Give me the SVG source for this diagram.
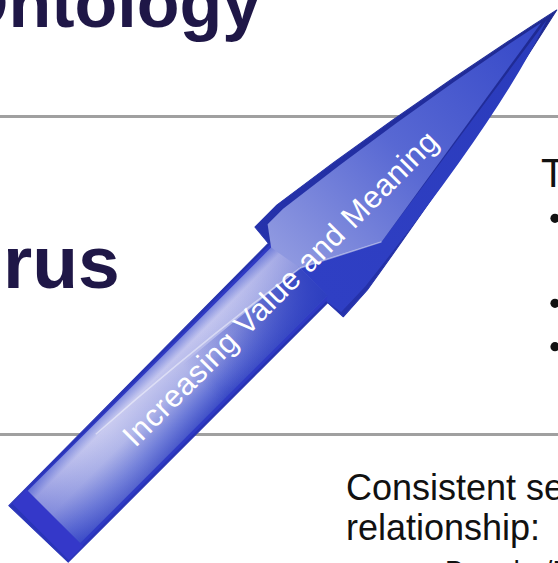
<svg xmlns="http://www.w3.org/2000/svg" width="558" height="563" viewBox="0 0 558 563">
<defs>
<style>
.title{font-family:"Liberation Sans",Arial,sans-serif;font-weight:bold;fill:#1f1747}
.body{font-family:"Liberation Sans",Arial,sans-serif;fill:#111111}
.rule{stroke:#a0a0a0;stroke-width:3;fill:none}
.bullet{fill:#111111}
.arrowtext{font-family:"Liberation Sans",Arial,sans-serif;fill:#ffffff}
</style>
<linearGradient id="outer" gradientUnits="userSpaceOnUse" x1="0" y1="0" x2="736" y2="0">
<stop offset="0" stop-color="#2a34b8"/>
<stop offset="0.5" stop-color="#2532ac"/>
<stop offset="1" stop-color="#1e2990"/>
</linearGradient>
<linearGradient id="shaftFace" gradientUnits="userSpaceOnUse" x1="0" y1="-37" x2="0" y2="37">
<stop offset="0" stop-color="#7e8ade"/>
<stop offset="0.14" stop-color="#c2c4ee"/>
<stop offset="0.45" stop-color="#a8aee7"/>
<stop offset="0.78" stop-color="#6372d6"/>
<stop offset="1" stop-color="#3a4bc6"/>
</linearGradient>
<linearGradient id="shaftLen" gradientUnits="userSpaceOnUse" x1="22" y1="0" x2="372" y2="0">
<stop offset="0" stop-color="#3a48c8" stop-opacity="0.35"/>
<stop offset="0.3" stop-color="#ffffff" stop-opacity="0.12"/>
<stop offset="0.6" stop-color="#ffffff" stop-opacity="0"/>
<stop offset="1" stop-color="#4050c8" stop-opacity="0.25"/>
</linearGradient>
<linearGradient id="shaftShade" gradientUnits="userSpaceOnUse" x1="220" y1="0" x2="372" y2="0">
<stop offset="0" stop-color="#2c3dbf" stop-opacity="0"/>
<stop offset="1" stop-color="#2c3dbf" stop-opacity="0.9"/>
</linearGradient>
<linearGradient id="headFace" gradientUnits="userSpaceOnUse" x1="370" y1="0" x2="716" y2="0">
<stop offset="0" stop-color="#8e98e0"/>
<stop offset="0.45" stop-color="#5868d3"/>
<stop offset="1" stop-color="#3447c8"/>
</linearGradient>
<linearGradient id="headBevel" gradientUnits="userSpaceOnUse" x1="370" y1="0" x2="720" y2="0">
<stop offset="0" stop-color="#2f3fc4"/>
<stop offset="1" stop-color="#2a3bbb"/>
</linearGradient>
</defs>
<rect width="558" height="563" fill="#ffffff"/>
<g id="rules">
<line class="rule" x1="0" y1="116.5" x2="558" y2="116.5"/>
<line class="rule" x1="0" y1="434.5" x2="558" y2="434.5"/>
</g>
<g id="title-ontology"><text class="title" x="-46" y="26.5" font-size="70">Ontology</text></g>
<g id="title-thesaurus"><text class="title" x="3" y="288" font-size="75">rus</text></g>
<g id="right-text">
<text class="body" x="541" y="187" font-size="40">T</text>
<circle class="bullet" cx="555" cy="218.3" r="4.6"/>
<circle class="bullet" cx="555" cy="303.3" r="4.6"/>
<circle class="bullet" cx="555" cy="346.7" r="4.6"/>
</g>
<g id="bottom-text">
<text class="body" x="346" y="499.5" font-size="36">Consistent se</text>
<text class="body" x="346" y="540" font-size="36">relationship:</text>
<text class="body" x="445" y="580" font-size="28">Broader/Narrower</text>
</g>
<g id="arrow" transform="translate(38.5,532.5) rotate(-45)">
<path d="M -2,-40 L 367,-42 L 369,-63 L 400,-63 Q 569,-40 736,-3 Q 571,34 404,61 L 368,63 L 367,42 L 0,42 Z" fill="url(#outer)" stroke="url(#outer)" stroke-width="1" stroke-linejoin="round"/>
<path d="M 2,-38 L 365,-40 L 372,-40 L 372,40 L 2,40 Z" fill="#2f3ac4"/>
<path d="M 2,-39 L 22,-39 L 22,41 L 2,41 Z" fill="#3438c9"/>
<path d="M 22,-37 L 372,-37 L 372,37 L 22,37 Z" fill="url(#shaftFace)"/>
<path d="M 22,-37 L 372,-37 L 372,37 L 22,37 Z" fill="url(#shaftLen)"/>
<path d="M 220,-17 Q 300,-10 372,-2 L 372,37 L 220,37 Z" fill="url(#shaftShade)"/>
<path d="M 372,-2 L 448,37 L 722,-3 Q 625,32 405,57 L 370,58 L 367,40 L 372,37 Z" fill="url(#headBevel)"/>
<path d="M 366,-37 L 380,-56 L 402,-56 Q 566,-36 716,-5 L 448,37 L 372,-2 Z" fill="url(#headFace)"/>
<path d="M 110,-29 Q 250,-20 372,-2 L 448,37" fill="none" stroke="#ffffff" stroke-opacity="0.45" stroke-width="1.5"/>
<text class="arrowtext" x="128" y="9" font-size="31" textLength="431" lengthAdjust="spacing">Increasing Value and Meaning</text>
</g>
</svg>
